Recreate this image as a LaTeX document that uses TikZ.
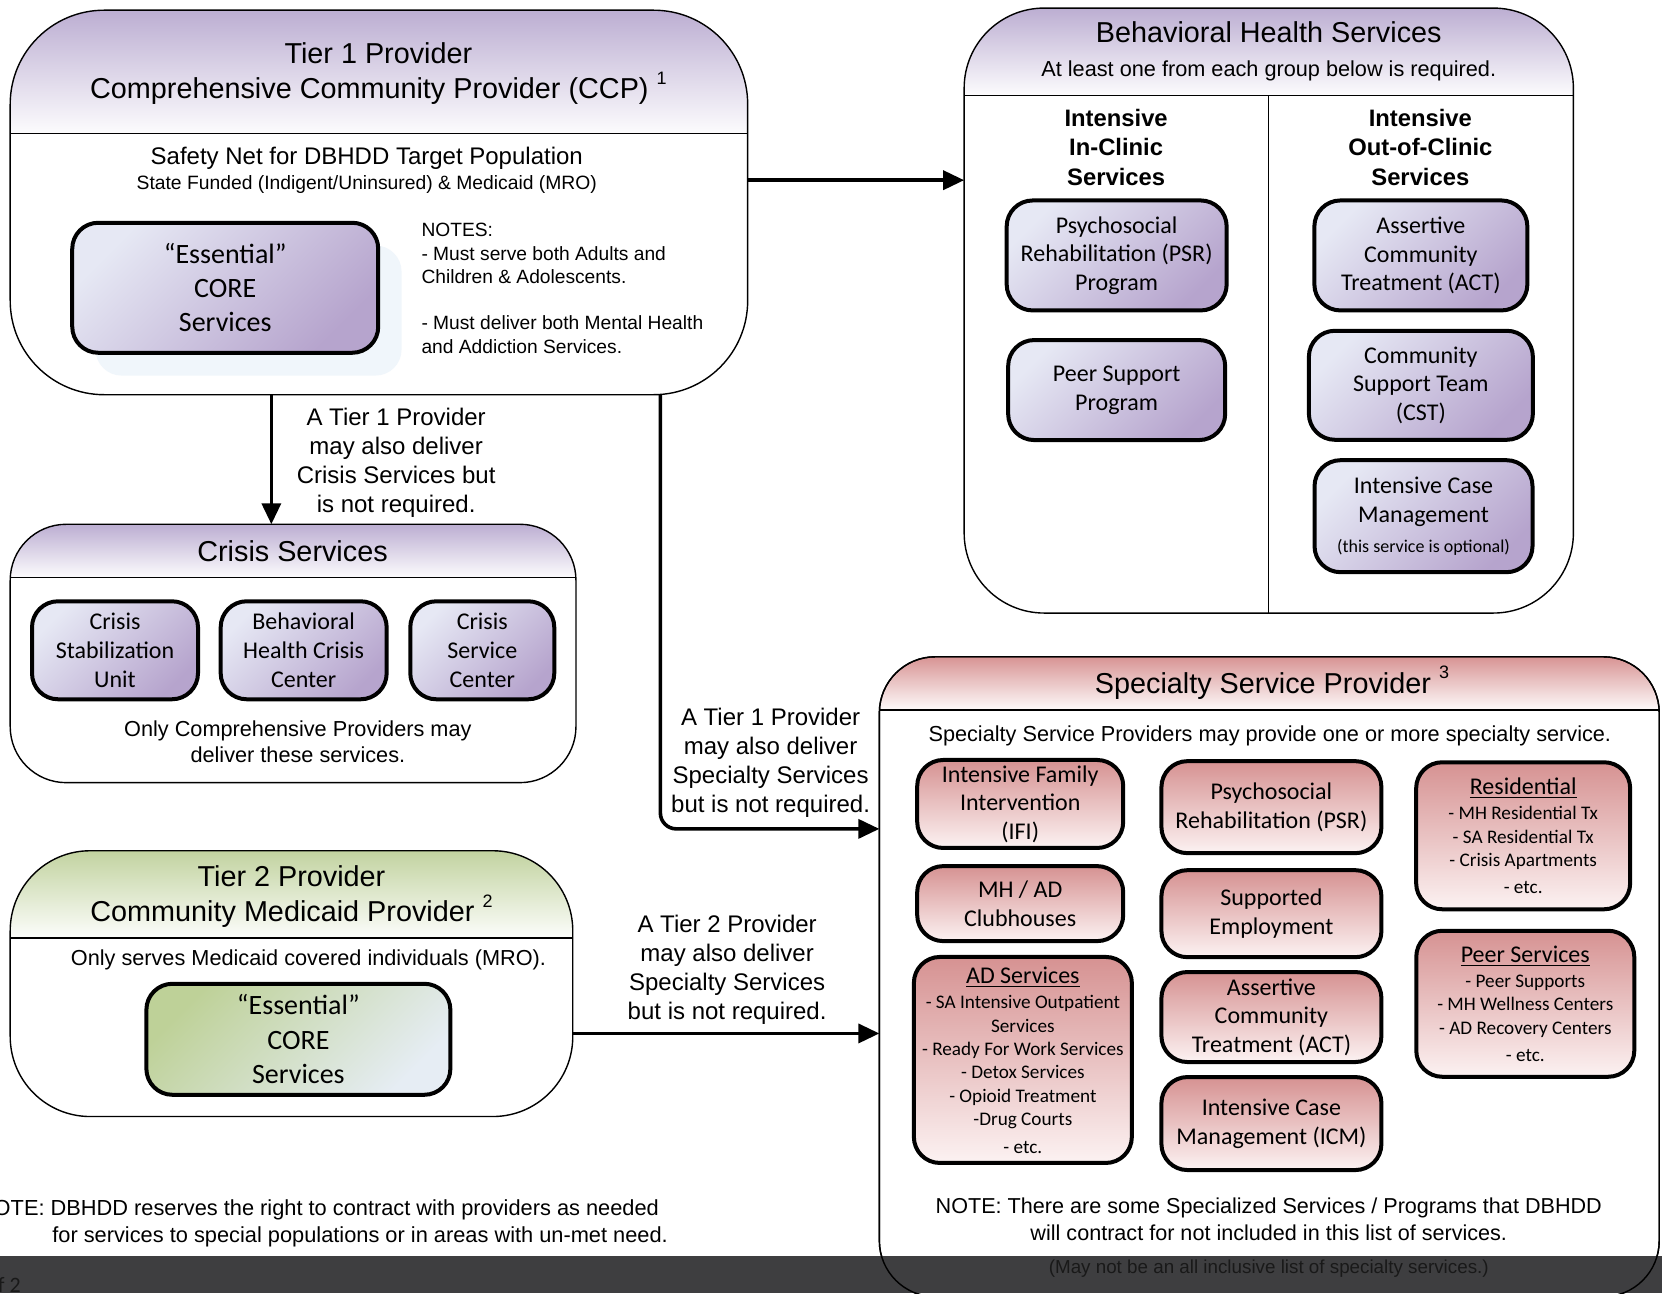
\documentclass[tikz,border=0pt]{standalone}
\usepackage{fontspec}
\setmainfont{Liberation Sans}
\newfontfamily\boxfont{Carlito}
\usetikzlibrary{positioning, fit, arrows.meta}

\definecolor{hdrlav}{RGB}{188,174,210}
\definecolor{lavlight}{RGB}{230,232,244}
\definecolor{lavdark}{RGB}{182,164,205}
\definecolor{hdrrose}{RGB}{216,148,148}
\definecolor{rosedark}{RGB}{214,146,146}
\definecolor{roselight}{RGB}{252,242,242}
\definecolor{hdrgreen}{RGB}{194,211,160}
\definecolor{greendark}{RGB}{190,209,152}
\definecolor{greenlight}{RGB}{230,237,244}
\definecolor{shadowblue}{RGB}{240,246,251}
\definecolor{bandgray}{RGB}{62,62,64}
\definecolor{bandtext}{RGB}{25,25,25}

\newcommand{\provnote}[1]{\raisebox{0.5em}{\fontsize{9}{9}\selectfont #1}}

\tikzset{
    provider/.style={fill=white, inner sep=0pt, rounded corners=#1},
    wh/.style 2 args={minimum width=#1, minimum height=#2},
    svc/.style={draw, line width=2pt, rounded corners=13pt, align=center, inner sep=1pt,
        font=\boxfont\fontsize{12}{14.3}\selectfont},
    lavsvc/.style={svc, left color=lavlight, right color=lavdark, shading angle=45},
    rosesvc/.style={svc, top color=rosedark, bottom color=roselight},
    listsvc/.style={rosesvc, font=\boxfont\fontsize{9.6}{11.7}\selectfont},
    ttl/.style={font=\fontsize{14.4}{17.5}\selectfont, align=center},
    lbl/.style={font=\fontsize{12}{14.5}\selectfont, align=center},
    txt/.style={font=\fontsize{10.85}{12.8}\selectfont, align=center},
    colhd/.style={font=\bfseries\fontsize{11.9}{14.6}\selectfont, align=center},
    conn/.style={line width=1.8pt, -{Triangle[length=10.5pt, width=9.5pt]}},
    divider/.style={line width=0.7pt}
}

\begin{document}
\begin{tikzpicture}[x=0.53pt, y=-0.53pt]
\path[use as bounding box, clip] (0,0) rectangle (1568,1220);

% the five provider / service groups
\node[provider=47pt, fit={(10,10) (705,372)}] (tier1) {};
\node[provider=28pt, fit={(10,495) (543,738)}] (crisis) {};
\node[provider=40pt, fit={(910,8) (1484,578)}] (bhs) {};
\node[provider=28pt, fit={(830,620) (1565,1223)}] (spec) {};
\node[provider=40pt, fit={(10,803) (540,1053)}] (tier2) {};

% shaded headers, outlines and header lines
\foreach \grp/\rad/\hy/\hc in {tier1/47pt/126/hdrlav, crisis/28pt/545/hdrlav, bhs/40pt/90/hdrlav,
        spec/28pt/670/hdrrose, tier2/40pt/885/hdrgreen}{
    \begin{scope}
        \clip[rounded corners=\rad] (\grp.north west) rectangle (\grp.south east);
        \shade[top color=\hc, bottom color=white!96!\hc] (\grp.north west) rectangle (\grp.east |- 0,\hy);
    \end{scope}
    \draw[line width=0.7pt, rounded corners=\rad] (\grp.north west) rectangle (\grp.south east);
    \draw[divider] (\grp.west |- 0,\hy) -- (\grp.east |- 0,\hy);
}
\draw[line width=0.5pt] (bhs.north |- 0,90) -- (bhs.south);

% Tier 1
\node[ttl] (t1name) at (357,69.5) {Tier 1 Provider\\Comprehensive Community Provider (CCP) \provnote{1}};
\node[font=\fontsize{12}{14}\selectfont] (t1net) at (346,149) {Safety Net for DBHDD Target Population};
\node[font=\fontsize{9.65}{12}\selectfont] (t1fund) at (346,174) {State Funded (Indigent/Uninsured) \& Medicaid (MRO)};
\node[fill=shadowblue, rounded corners=13pt, wh={153pt}{65pt}] (t1shadow) at (234.5,293) {};
\node[lavsvc, wh={153pt}{65pt}, font=\boxfont\fontsize{14}{17}\selectfont] (t1core) at (212.5,271.5)
    {“Essential”\\CORE\\Services};
\node[anchor=west, align=left, font=\fontsize{9.6}{11.7}\selectfont] (t1notes) at (391,272)
    {NOTES:\\- Must serve both Adults and\\Children \& Adolescents.\\[11.5pt]- Must deliver both Mental Health\\and Addiction Services.};

% Crisis Services
\node[ttl] (crname) at (276,520) {Crisis Services};
\node[lavsvc, wh={83pt}{49pt}] (csu) at (108.5,613.5) {Crisis\\Stabilization\\Unit};
\node[lavsvc, wh={83pt}{49pt}] (bhcc) at (286.5,613.5) {Behavioral\\Health Crisis\\Center};
\node[lavsvc, wh={72pt}{49pt}] (csc) at (455,613.5) {Crisis\\Service\\Center};
\node[txt] (crnote) at (281,700) {Only Comprehensive Providers may\\deliver these services.};

% Behavioral Health Services
\node[ttl] (bhsname) at (1197,30) {Behavioral Health Services};
\node[txt] (bhsreq) at (1197,67) {At least one from each group below is required.};
\node[colhd] (inclinic) at (1053,139) {Intensive\\In-Clinic\\Services};
\node[colhd] (outclinic) at (1340,139) {Intensive\\Out-of-Clinic\\Services};
\node[lavsvc, wh={110pt}{55pt}] (psrprog) at (1053.5,241) {Psychosocial\\Rehabilitation (PSR)\\Program};
\node[lavsvc, wh={108.5pt}{50pt}] (peerprog) at (1053.5,368) {Peer Support\\Program};
\node[lavsvc, wh={106.5pt}{55pt}] (actbhs) at (1340.5,241) {Assertive\\Community\\Treatment (ACT)};
\node[lavsvc, wh={112pt}{54.5pt}] (cstbhs) at (1340.5,363.5) {Community\\Support Team\\(CST)};
\node[lavsvc, wh={109pt}{56pt}] (icmbhs) at (1343,487)
    {Intensive Case\\Management\\[1pt]{\fontsize{9}{11}\selectfont(this service is optional)}};

% Specialty Service Provider
\node[ttl] (specname) at (1200,644) {Specialty Service Provider \provnote{3}};
\node[txt] (specany) at (1198,694) {Specialty Service Providers may provide one or more specialty service.};
\node[rosesvc, wh={103pt}{44pt}] (ifi) at (962.5,758.5) {Intensive Family\\Intervention\\(IFI)};
\node[rosesvc, wh={103pt}{37.5pt}] (club) at (962.5,852.5) {MH / AD\\Clubhouses};
\node[listsvc, wh={109pt}{103pt}] (adsvc) at (965,1000)
    {{\fontsize{12}{14}\selectfont\underline{AD Services}}\\[1pt]- SA Intensive Outpatient\\Services\\- Ready For Work Services\\- Detox Services\\- Opioid Treatment\\-Drug Courts\\[2pt]- etc.};
\node[rosesvc, wh={110pt}{46pt}] (psrspec) at (1199.5,761.5) {Psychosocial\\Rehabilitation (PSR)};
\node[rosesvc, wh={110pt}{43.5pt}] (suppemp) at (1199.5,862) {Supported\\Employment};
\node[rosesvc, wh={110pt}{45pt}] (actspec) at (1199.5,959.5) {Assertive\\Community\\Treatment (ACT)};
\node[rosesvc, wh={110pt}{46.5pt}] (icmspec) at (1199.5,1060) {Intensive Case\\Management (ICM)};
\node[listsvc, wh={107pt}{73.5pt}] (resid) at (1437,788.5)
    {{\fontsize{12}{14}\selectfont\underline{Residential}}\\[1pt]- MH Residential Tx\\- SA Residential Tx\\- Crisis Apartments\\[2pt]- etc.};
\node[listsvc, wh={109pt}{73pt}] (peersvc) at (1439,947)
    {{\fontsize{12}{14}\selectfont\underline{Peer Services}}\\[1pt]- Peer Supports\\- MH Wellness Centers\\- AD Recovery Centers\\[2pt]- etc.};
\node[font=\fontsize{10.8}{13.3}\selectfont, align=center] (specnote) at (1197,1150.5)
    {NOTE: There are some Specialized Services / Programs that DBHDD\\will contract for not included in this list of services.};

% Tier 2
\node[ttl] (t2name) at (275,846) {Tier 2 Provider\\Community Medicaid Provider \provnote{2}};
\node[txt] (t2only) at (291,906) {Only serves Medicaid covered individuals (MRO).};
\node[svc, wh={152pt}{55.5pt}, left color=greendark, right color=greenlight, shading angle=45,
    font=\boxfont\fontsize{14}{17.2}\selectfont] (t2core) at (281.5,980.5) {“Essential”\\CORE\\Services};

% footer
\node[anchor=east, inner sep=0pt, font=\fontsize{10.9}{12}\selectfont] (dbnote1) at (622,1141)
    {NOTE: DBHDD reserves the right to contract with providers as needed};
\node[anchor=west, inner sep=0pt, font=\fontsize{10.9}{12}\selectfont] (dbnote2) at (49,1167)
    {for services to special populations or in areas with un-met need.};
\node[fill=bandgray, inner sep=0pt, fit={(0,1185) (1568,1220)}] (band) {};
\draw[line width=0.7pt, rounded corners=28pt] (spec.north west) rectangle (spec.south east);
\node[text=bandtext, font=\fontsize{9.4}{11}\selectfont] (specmaynot) at (1197,1197)
    {(May not be an all inclusive list of specialty services.)};
\node[anchor=east, inner sep=0pt, text=bandtext, font=\boxfont\fontsize{11}{12}\selectfont] (pageno) at (20,1212) {of 2};

% connectors
\draw[conn] (tier1.south -| 256,0) -- node[lbl, right=8.5pt, yshift=-1.5pt] (crisislbl)
    {A Tier 1 Provider\\may also deliver\\Crisis Services but\\is not required.} (crisis.north -| 256,0);
\draw[conn] (tier1.east |- 0,170) -- (bhs.west |- 0,170);
\draw[conn, rounded corners=8pt] (tier1.south -| 623,0) |- (spec.west |- 0,782);
\node[lbl] (speclbl1) at (727,720) {A Tier 1 Provider\\may also deliver\\Specialty Services\\but is not required.};
\draw[conn] (tier2.east |- 0,975) -- (spec.west |- 0,975);
\node[lbl] (speclbl2) at (686,914.5) {A Tier 2 Provider\\may also deliver\\Specialty Services\\but is not required.};
\end{tikzpicture}
\end{document}
